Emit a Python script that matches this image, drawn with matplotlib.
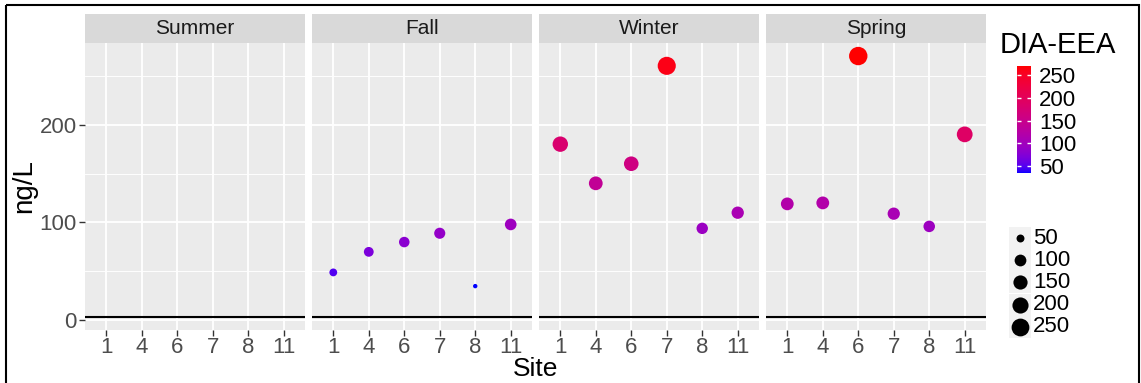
import numpy as np
import matplotlib
matplotlib.use("Agg")
import matplotlib.pyplot as plt
from matplotlib.colors import ListedColormap, Normalize
from matplotlib.cm import ScalarMappable
from matplotlib.patches import Rectangle

plt.rcParams['font.family'] = ['Liberation Sans', 'DejaVu Sans']

# data
seasons = ['Summer', 'Fall', 'Winter', 'Spring']
sites = ['1', '4', '6', '7', '8', '11']
summer = [np.nan, np.nan, np.nan, np.nan, np.nan, np.nan]
fall = [49, 70, 80, 89, 35, 98]
winter = [180, 140, 160, 260, 94, 110]
spring = [119, 120, 270, 109, 96, 190]
hline_value = 3.5
size_breaks = [50, 100, 150, 200, 250]
color_breaks = [50, 100, 150, 200, 250]

season_values = {'Summer': summer, 'Fall': fall, 'Winter': winter, 'Spring': spring}


# ggplot-like blue -> red gradient, interpolated in Lab space
def srgb_to_lab(rgb):
    rgb = np.asarray(rgb, float)
    c = np.where(rgb <= 0.04045, rgb / 12.92, ((rgb + 0.055) / 1.055) ** 2.4)
    M = np.array([[0.4124, 0.3576, 0.1805], [0.2126, 0.7152, 0.0722], [0.0193, 0.1192, 0.9505]])
    xyz = M @ c / np.array([0.95047, 1.0, 1.08883])
    d = 6 / 29
    f = np.where(xyz > d ** 3, np.cbrt(xyz), xyz / (3 * d ** 2) + 4 / 29)
    return np.array([116 * f[1] - 16, 500 * (f[0] - f[1]), 200 * (f[1] - f[2])])


def lab_to_srgb(lab):
    L, a, b = lab
    fy = (L + 16) / 116
    f = np.array([fy + a / 500, fy, fy - b / 200])
    d = 6 / 29
    xyz = np.where(f > d, f ** 3, 3 * d ** 2 * (f - 4 / 29)) * np.array([0.95047, 1.0, 1.08883])
    M = np.array([[0.4124, 0.3576, 0.1805], [0.2126, 0.7152, 0.0722], [0.0193, 0.1192, 0.9505]])
    c = np.clip(np.linalg.solve(M, xyz), 0, 1)
    return np.where(c <= 0.0031308, 12.92 * c, 1.055 * c ** (1 / 2.4) - 0.055).clip(0, 1)


lab_lo = srgb_to_lab([0, 0, 1])
lab_hi = srgb_to_lab([1, 0, 0])
cmap = ListedColormap([lab_to_srgb(lab_lo + t * (lab_hi - lab_lo)) for t in np.linspace(0, 1, 256)])

all_vals = np.array(fall + winter + spring, float)
vmin, vmax = all_vals.min(), all_vals.max()
norm = Normalize(vmin, vmax)


def point_size(v):
    # area scale like ggplot scale_size (range 1..6) plus stroke
    v = np.asarray(v, float)
    size = 1 + 5 * np.sqrt(np.clip((v - vmin) / (vmax - vmin), 0, 1))
    d_px = 2.8 * size + 1.6
    return (d_px * 0.72) ** 2


lo = min(vmin, hline_value)
hi = max(vmax, hline_value)
pad = 0.05 * (hi - lo)
ylim = (lo - pad, hi + pad)

W, H = 1141, 383
fig = plt.figure(figsize=(W / 100, H / 100), dpi=100)


def px_axes(x0, y0, x1, y1):
    return fig.add_axes([x0 / W, 1 - y1 / H, (x1 - x0) / W, (y1 - y0) / H])


xs = np.arange(len(sites))
for i, season in enumerate(seasons):
    x0 = 85 + i * 227
    ax = px_axes(x0, 43, x0 + 220, 330)
    ax.set_facecolor('#EBEBEB')
    vals = np.array(season_values[season], float)
    m = ~np.isnan(vals)
    ax.scatter(xs[m], vals[m], s=point_size(vals[m]), c=vals[m], cmap=cmap, norm=norm,
               linewidths=0, zorder=3)
    ax.axhline(hline_value, color='black', lw=1.5, zorder=2)
    ax.set_xlim(-0.6, len(sites) - 0.4)
    ax.set_ylim(*ylim)
    ax.set_xticks(xs, sites)
    ax.set_yticks([0, 100, 200])
    ax.set_yticks([50, 150, 250], minor=True)
    ax.set_axisbelow(True)
    ax.grid(which='major', color='white', lw=1.3)
    ax.grid(which='minor', axis='y', color='white', lw=0.65)
    for s in ax.spines.values():
        s.set_visible(False)
    ax.tick_params(which='minor', length=0)
    ax.tick_params(axis='both', colors='#333333', labelcolor='#4D4D4D', labelsize=16,
                   length=4, width=1, pad=2)
    ax.tick_params(axis='x', pad=1)
    if i > 0:
        ax.tick_params(axis='y', left=False, labelleft=False)

    strip = px_axes(x0, 14, x0 + 220, 43)
    strip.set_facecolor('#D9D9D9')
    strip.set_xticks([])
    strip.set_yticks([])
    for s in strip.spines.values():
        s.set_visible(False)
    strip.text(0.5, 0.5, season, ha='center', va='center', fontsize=15, color='#1A1A1A',
               transform=strip.transAxes)

fig.text(24 / W, 1 - 186 / H, 'ng/L', rotation=90, ha='center', va='center', fontsize=20)
fig.text(535.5 / W, 1 - 369 / H, 'Site', ha='center', va='center', fontsize=19)

# colour bar
fig.text(1000 / W, 1 - 45 / H, 'DIA-EEA', ha='left', va='center', fontsize=21)
cax = px_axes(1017, 66, 1031, 173)
cb = fig.colorbar(ScalarMappable(norm=norm, cmap=cmap), cax=cax)
cb.outline.set_visible(False)
cb.set_ticks(color_breaks)
cax.tick_params(direction='in', color='white', length=3, width=1, left=True, right=True,
                labelsize=16, pad=6)

# size legend and outer border, drawn in pixel coordinates
lax = fig.add_axes([0, 0, 1, 1])
lax.set_xlim(0, W)
lax.set_ylim(H, 0)
lax.axis('off')
lax.patch.set_alpha(0)
for k, b in enumerate(size_breaks):
    yc = 238 + k * 22.2
    lax.add_patch(Rectangle((1009, yc - 11), 22, 22, facecolor='#F2F2F2', edgecolor='none'))
    lax.scatter([1020], [yc], s=point_size(b), color='black', linewidths=0)
    lax.text(1033, yc, str(b), ha='left', va='center', fontsize=16)
lax.add_patch(Rectangle((6, 5), 1133, 400, facecolor='none', edgecolor='black', lw=1.5,
                        clip_on=False))

fig.savefig('out.png', dpi=100)
